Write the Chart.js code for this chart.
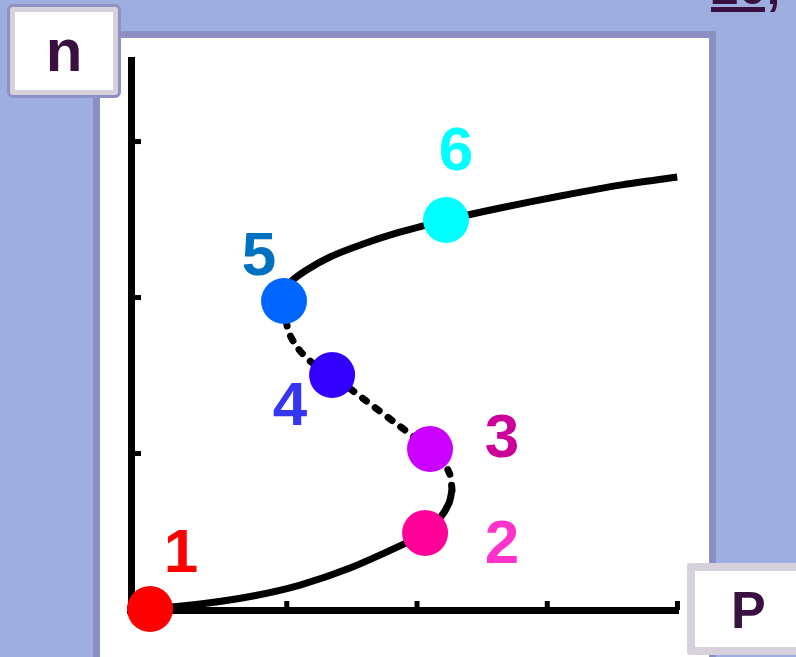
<!DOCTYPE html>
<html>
<head>
<meta charset="utf-8">
<script src="https://cdn.jsdelivr.net/npm/chart.js@4.4.1/dist/chart.umd.min.js"></script>
<style>
  html, body { margin: 0; padding: 0; }
  body {
    width: 796px; height: 657px; overflow: hidden; position: relative;
    background: #9eaee0; font-family: "Liberation Sans", Arial, sans-serif;
  }
  #panel {
    position: absolute; left: 93px; top: 31px; width: 623px; height: 700px;
    box-sizing: border-box; border: 7px solid #8b8fc2; background: #fff;
  }
  #chart { position: absolute; left: 0; top: 0; z-index: 1; }
  .box {
    position: absolute; z-index: 2; box-sizing: border-box; background: #fff;
    border: 5px solid #d7d1db; border-radius: 3px;
    color: #3a1040; font-weight: bold; text-align: center;
  }
  #nbox {
    left: 10px; top: 7px; width: 108px; height: 88px;
    box-shadow: 0 0 0 3px #8d91c6;
    font-size: 60px; line-height: 78px;
  }
  #pbox {
    left: 687px; top: 563px; width: 130px; height: 92px;
    border-width: 8px; font-size: 52px; line-height: 78px;
    text-align: left; padding-left: 36px;
  }
  #corner {
    position: absolute; left: 711px; top: -38px; z-index: 2;
    font-size: 50px; line-height: 50px; font-weight: bold;
    color: #3a1040; text-decoration: underline;
  }
</style>
</head>
<body>
<div id="panel"></div>
<div id="corner">20,</div>
<div id="nbox" class="box">n</div>
<div id="pbox" class="box">P</div>
<canvas id="chart" width="796" height="657"></canvas>
<script>
// axis ticks
const xTicks = [1.2, 2.2, 3.2, 4.2];
const yTicks = [1, 2, 3];

// S-curve n(P), three branches
const lowerX = [0.146, 0.53, 0.937, 1.298, 1.682, 2.081, 2.258, 2.373, 2.442, 2.465];
const lowerY = [0.006, 0.038, 0.09, 0.16, 0.269, 0.417, 0.494, 0.59, 0.686, 0.769];
const middleX = [2.465, 2.45, 2.396, 2.296, 2.051, 1.797, 1.544, 1.375, 1.275, 1.206, 1.175];
const middleY = [0.769, 0.865, 0.949, 1.032, 1.186, 1.346, 1.506, 1.596, 1.686, 1.795, 1.981];
const upperX = [1.175, 1.221, 1.336, 1.528, 1.782, 2.043, 2.419, 2.834, 3.295, 3.756, 4.194];
const upperY = [1.981, 2.096, 2.173, 2.263, 2.346, 2.417, 2.5, 2.577, 2.654, 2.724, 2.776];

// marked states
const stateLabels = ["1", "2", "3", "4", "5", "6"];
const stateX = [0.146, 2.258, 2.296, 1.544, 1.175, 2.419];
const stateY = [0.006, 0.494, 1.032, 1.506, 1.981, 2.5];

const stateColors = ["#ff0000", "#ff0099", "#cc00ff", "#3300ff", "#0066ff", "#00ffff"];
const labelColors = ["#ff0000", "#ff33cc", "#cc0099", "#3636f0", "#0070c0", "#00ffff"];
const labelShift = [[31, -57], [77, 10], [72, -12], [-42, 30], [-25, -46], [10, -70]];

const toPoints = (xs, ys) => xs.map((x, i) => ({ x: x, y: ys[i] }));

const lineStyle = {
  showLine: true,
  pointRadius: 0,
  borderColor: "#000",
  borderWidth: 7,
  tension: 0.3,
  clip: false,
  order: 2,
};

// small tick nubs drawn inside the axes
const tickNubs = {
  id: "tickNubs",
  beforeDatasetsDraw(chart) {
    const ctx = chart.ctx;
    const xs = chart.scales.x;
    const ys = chart.scales.y;
    const x0 = xs.getPixelForValue(0);
    const y0 = ys.getPixelForValue(0);
    ctx.save();
    ctx.fillStyle = "#000";
    xTicks.forEach((v) => {
      const px = xs.getPixelForValue(v);
      ctx.fillRect(px - 3, y0 - 9, 5, 9);
    });
    yTicks.forEach((v) => {
      const py = ys.getPixelForValue(v);
      ctx.fillRect(x0, py - 3, 10, 5);
    });
    // fill the corner where the two axis lines meet
    ctx.fillRect(x0 - 4, y0 - 4, 8, 8);
    ctx.restore();
  },
};

// numbers next to the states
const stateNumbers = {
  id: "stateNumbers",
  afterDatasetsDraw(chart) {
    const ctx = chart.ctx;
    const xs = chart.scales.x;
    const ys = chart.scales.y;
    ctx.save();
    ctx.font = "bold 62px 'Liberation Sans', Arial, sans-serif";
    ctx.textAlign = "center";
    ctx.textBaseline = "middle";
    stateLabels.forEach((t, i) => {
      const px = xs.getPixelForValue(stateX[i]) + labelShift[i][0];
      const py = ys.getPixelForValue(stateY[i]) + labelShift[i][1];
      ctx.fillStyle = labelColors[i];
      ctx.fillText(t, px, py + 3);
    });
    ctx.restore();
  },
};

new Chart(document.getElementById("chart").getContext("2d"), {
  type: "scatter",
  data: {
    datasets: [
      {
        label: "states",
        data: toPoints(stateX, stateY),
        pointRadius: 23,
        pointHoverRadius: 23,
        pointBorderWidth: 0,
        pointBackgroundColor: stateColors,
        clip: false,
        order: 0,
      },
      { ...lineStyle, label: "lower", data: toPoints(lowerX, lowerY) },
      {
        ...lineStyle,
        label: "middle",
        data: toPoints(middleX, middleY),
        borderDash: [5, 11],
        borderCapStyle: "round",
      },
      { ...lineStyle, label: "upper", data: toPoints(upperX, upperY) },
    ],
  },
  options: {
    responsive: false,
    animation: false,
    devicePixelRatio: 1,
    layout: {
      padding: { left: 131, right: 118, top: 60, bottom: 47 },
    },
    plugins: {
      legend: { display: false },
      tooltip: { enabled: false },
    },
    scales: {
      x: {
        type: "linear",
        min: 0,
        max: 4.2,
        grid: { display: false, drawTicks: false },
        ticks: { display: false },
        border: { display: true, color: "#000", width: 7 },
      },
      y: {
        type: "linear",
        min: 0,
        max: 3.526,
        grid: { display: false, drawTicks: false },
        ticks: { display: false },
        border: { display: true, color: "#000", width: 7 },
      },
    },
  },
  plugins: [tickNubs, stateNumbers],
});
</script>
</body>
</html>
